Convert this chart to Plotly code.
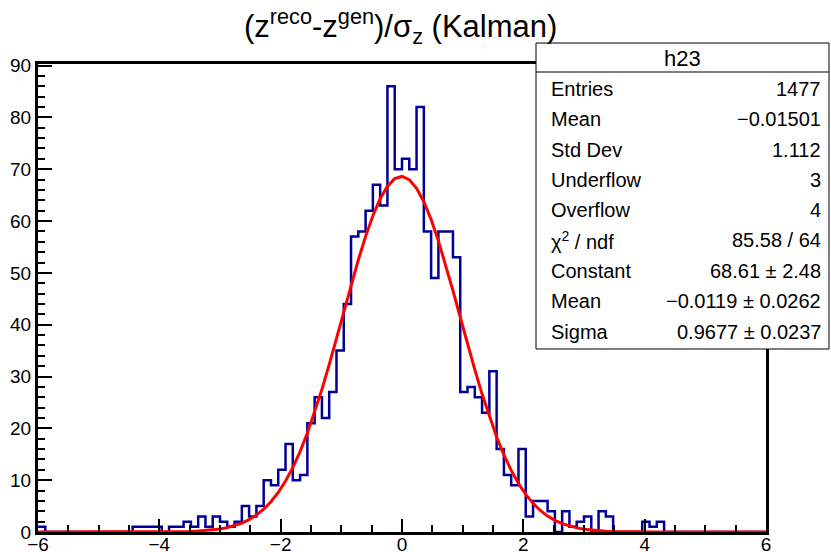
import numpy as np
import plotly.graph_objects as go

# ---------------- data ----------------
X_MIN, X_MAX, N_BINS = -6.0, 6.0, 100
counts = [
    1, 0, 0, 0, 0, 0, 0, 0, 0, 0,
    0, 0, 0, 1, 1, 1, 1, 0, 1, 1,
    2, 1, 3, 1, 3, 2, 1, 2, 5, 3,
    5, 10, 9, 12, 17, 10, 11, 21, 26, 22,
    27, 35, 44, 57, 58, 62, 67, 63, 86, 70,
    72, 70, 82, 58, 49, 58, 58, 53, 27, 28,
    26, 23, 31, 16, 11, 9, 16, 3, 6, 6,
    4, 0, 4, 1, 2, 3, 0, 4, 3, 0,
    0, 0, 0, 2, 1, 2, 0, 0, 0, 0,
    0, 0, 0, 0, 0, 0, 0, 0, 0, 0,
]
fit_constant = 68.61
fit_mean = -0.0119
fit_sigma = 0.9677
fit_npx = 100

hist_name = "h23"
stat_labels = ["Entries", "Mean", "Std Dev", "Underflow", "Overflow",
               "χ<sup>2</sup> / ndf", "Constant", "Mean", "Sigma"]
stat_values = ["1477", "−0.01501", "1.112", "3", "4",
               "85.58 / 64", "68.61 ± 2.48", "−0.0119 ± 0.0262", "0.9677 ± 0.0237"]
title_text = "(z<sup>reco</sup>-z<sup>gen</sup>)/σ<sub>z</sub> (Kalman)"

# ---------------- geometry helpers ----------------
W, H = 831, 552
L, R, T, B = 38, 766, 64, 532
Y_MAX = 90.3


def px(x):
    return (x - L) / (R - L)


def py(y):
    return (B - y) / (B - T)


FONT = "Liberation Sans, Arial, Helvetica, sans-serif"

edges = np.linspace(X_MIN, X_MAX, N_BINS + 1)
hx = list(edges)
hy = list(counts) + [counts[-1]]

fx = np.linspace(X_MIN, X_MAX, fit_npx + 1)
fy = fit_constant * np.exp(-0.5 * ((fx - fit_mean) / fit_sigma) ** 2)

fig = go.Figure()
fig.add_trace(go.Scatter(x=hx, y=hy, mode="lines",
                         line=dict(shape="hv", color="#000099", width=2.5),
                         hoverinfo="skip", showlegend=False))
fig.add_trace(go.Scatter(x=fx, y=fy, mode="lines",
                         line=dict(color="#ff0000", width=3),
                         hoverinfo="skip", showlegend=False))

axis_common = dict(showgrid=False, zeroline=False, showline=True, mirror=True,
                   linecolor="black", linewidth=3, ticks="inside",
                   tickcolor="black", tickwidth=1.5, automargin=False,
                   tickfont=dict(family=FONT, size=19, color="black"))

fig.update_xaxes(range=[X_MIN, X_MAX], tick0=-6, dtick=2, ticklen=13,
                 ticklabelstandoff=-7,
                 minor=dict(dtick=0.5, ticks="inside", ticklen=7,
                            tickcolor="black", tickwidth=1.5),
                 **axis_common)
fig.update_yaxes(range=[0, Y_MAX], tick0=0, dtick=10, ticklen=14,
                 minor=dict(dtick=2, ticks="inside", ticklen=7,
                            tickcolor="black", tickwidth=1.5),
                 **axis_common)

# stats box
bx0, bx1, by0, by1, bh = 536, 829, 43, 349, 72
shapes = [
    dict(type="rect", xref="paper", yref="paper",
         x0=px(bx0), x1=px(bx1), y0=py(by1), y1=py(by0),
         fillcolor="white", line=dict(color="black", width=1), layer="above"),
    dict(type="line", xref="paper", yref="paper",
         x0=px(bx0), x1=px(bx1), y0=py(bh), y1=py(bh),
         line=dict(color="black", width=1), layer="above"),
]

annotations = [
    dict(text=hist_name, xref="paper", yref="paper", x=px((bx0 + bx1) / 2), y=py(58),
         xanchor="center", yanchor="middle", showarrow=False,
         font=dict(family=FONT, size=22, color="black")),
    dict(text=title_text, xref="paper", yref="paper", x=px(400), y=py(26),
         xanchor="center", yanchor="middle", showarrow=False,
         font=dict(family=FONT, size=31, color="black")),
]
row_y = [89, 119, 150, 180, 210, 240, 271, 301, 332]
for lab, val, yy in zip(stat_labels, stat_values, row_y):
    annotations.append(dict(text=lab, xref="paper", yref="paper", x=px(549), y=py(yy),
                            xanchor="left", yanchor="middle", showarrow=False,
                            font=dict(family=FONT, size=20, color="black")))
    annotations.append(dict(text=val, xref="paper", yref="paper", x=px(823), y=py(yy),
                            xanchor="right", yanchor="middle", showarrow=False,
                            font=dict(family=FONT, size=20, color="black")))

fig.update_layout(width=W, height=H, margin=dict(l=L, r=W - R, t=T, b=H - B, autoexpand=False),
                  paper_bgcolor="white", plot_bgcolor="white",
                  shapes=shapes, annotations=annotations, showlegend=False)

fig.write_html("out.html")
